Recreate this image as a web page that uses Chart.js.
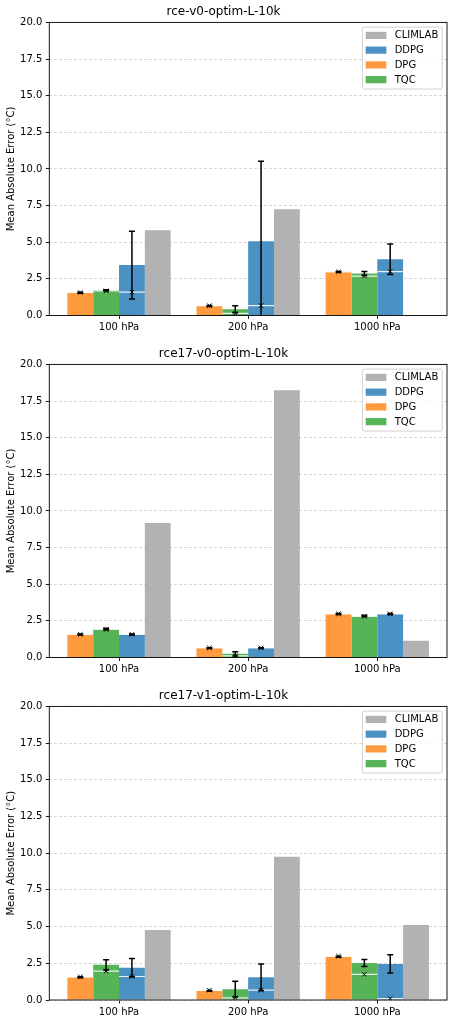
<!DOCTYPE html>
<html><head><meta charset="utf-8">
<script src="https://cdn.jsdelivr.net/npm/chart.js@4.4.0/dist/chart.umd.min.js"></script>
<style>
html,body{margin:0;padding:0;background:#fff;width:455px;height:1022px;overflow:hidden}
canvas{position:absolute;left:0}
</style></head>
<body>
<canvas id="c0" width="455" height="342" style="top:0px"></canvas>
<canvas id="c1" width="455" height="342" style="top:342px"></canvas>
<canvas id="c2" width="455" height="338" style="top:684px"></canvas>
<script>
// ---------------- data ----------------
const categories = ['100 hPa', '200 hPa', '1000 hPa'];
const yTicks = [0, 2.5, 5, 7.5, 10, 12.5, 15, 17.5, 20];
const seriesNames = ['DPG', 'TQC', 'DDPG', 'CLIMLAB'];
const panelTitles = ['rce-v0-optim-L-10k', 'rce17-v0-optim-L-10k', 'rce17-v1-optim-L-10k'];
const yLabel = 'Mean Absolute Error (°C)';

// panel 1: rce-v0-optim-L-10k
const p1_DPG = [1.55, 0.65, 2.98];
const p1_DPG_err = [0.04, 0.03, 0.03];
const p1_DPG_med = [1.57, 0.67, 2.98];
const p1_TQC = [1.72, 0.42, 2.87];
const p1_TQC_err = [0.04, 0.24, 0.14];
const p1_TQC_med = [1.68, 0.15, 2.69];
const p1_DDPG = [3.44, 5.07, 3.84];
const p1_DDPG_err = [2.31, 5.45, 1.04];
const p1_DDPG_med = [1.59, 0.68, 3.0];
const p1_CLIMLAB = [5.82, 7.25, null];

// panel 2: rce17-v0-optim-L-10k
const p2_DPG = [1.57, 0.64, 2.97];
const p2_DPG_err = [0.03, 0.03, 0.03];
const p2_DPG_med = [1.58, 0.66, 2.98];
const p2_TQC = [1.95, 0.25, 2.84];
const p2_TQC_err = [0.05, 0.14, 0.05];
const p2_TQC_med = [1.91, 0.11, 2.80];
const p2_DDPG = [1.57, 0.64, 2.97];
const p2_DDPG_err = [0.03, 0.03, 0.03];
const p2_DDPG_med = [1.58, 0.66, 2.98];
const p2_CLIMLAB = [9.17, 18.23, 1.14];

// panel 3: rce17-v1-optim-L-10k
const p3_DPG = [1.55, 0.62, 2.95];
const p3_DPG_err = [0.03, 0.03, 0.03];
const p3_DPG_med = [1.58, 0.67, 2.99];
const p3_TQC = [2.40, 0.74, 2.52];
const p3_TQC_err = [0.35, 0.53, 0.24];
const p3_TQC_med = [1.97, 0.15, 1.75];
const p3_DDPG = [2.20, 1.55, 2.46];
const p3_DDPG_err = [0.62, 0.90, 0.62];
const p3_DDPG_med = [1.60, 0.67, 0.10];
const p3_CLIMLAB = [4.77, 9.75, 5.11];

// ---------------- styles ----------------
const FONT = '"DejaVu Sans", "Liberation Sans", sans-serif';
const colors = { DPG: '#ff9a3e', TQC: '#56b356', DDPG: '#4b91c3', CLIMLAB: '#b2b2b2' };
Chart.defaults.font.family = FONT;
Chart.defaults.color = '#000';

const errPlugin = {
  id: 'errbars',
  afterDatasetsDraw(chart) {
    const ctx = chart.ctx, ca = chart.chartArea, ys = chart.scales.y;
    ctx.save();
    ctx.beginPath();
    ctx.rect(ca.left, ca.top, ca.right - ca.left, ca.bottom - ca.top);
    ctx.clip();
    chart.data.datasets.forEach((ds, k) => {
      if (!ds.errors) return;
      const meta = chart.getDatasetMeta(k);
      meta.data.forEach((bar, i) => {
        const m = ds.data[i].y;
        if (m == null) return;
        const x = bar.x, w = bar.width;
        // median line
        const ym = ys.getPixelForValue(ds.medians[i]);
        ctx.strokeStyle = 'rgba(255,255,255,0.85)';
        ctx.lineWidth = 1.2;
        ctx.beginPath(); ctx.moveTo(x - w / 2, ym); ctx.lineTo(x + w / 2, ym); ctx.stroke();
        // error bar
        const e = ds.errors[i];
        const yt = ys.getPixelForValue(m + e), yb = ys.getPixelForValue(m - e);
        ctx.strokeStyle = '#000';
        ctx.lineWidth = 1.5;
        ctx.beginPath();
        ctx.moveTo(x, yt); ctx.lineTo(x, yb);
        ctx.moveTo(x - 3, yt); ctx.lineTo(x + 3, yt);
        ctx.moveTo(x - 3, yb); ctx.lineTo(x + 3, yb);
        ctx.stroke();
        // x marker at median
        ctx.lineWidth = 1;
        const s = 2.2;
        ctx.beginPath();
        ctx.moveTo(x - s, ym - s); ctx.lineTo(x + s, ym + s);
        ctx.moveTo(x - s, ym + s); ctx.lineTo(x + s, ym - s);
        ctx.stroke();
      });
    });
    ctx.restore();
  }
};

const framePlugin = {
  id: 'frame',
  afterDatasetsDraw(chart) {
    const ctx = chart.ctx, ca = chart.chartArea;
    ctx.save();
    ctx.strokeStyle = '#000';
    ctx.lineWidth = 0.9;
    ctx.strokeRect(ca.left, ca.top, ca.right - ca.left, ca.bottom - ca.top);
    ctx.restore();
  }
};

const legendPlugin = {
  id: 'mplLegend',
  afterDraw(chart) {
    const ctx = chart.ctx, ca = chart.chartArea;
    const items = chart.data.datasets.map(d => ({ label: d.label, color: d.backgroundColor }))
      .sort((a, b) => a.label.localeCompare(b.label));
    ctx.save();
    ctx.font = '10px ' + FONT;
    const tw = Math.max(...items.map(it => ctx.measureText(it.label).width));
    const rowH = 14.75;
    const w = 3.3 + 20.7 + 8.3 + tw + 4;
    const h = 8.3 + (items.length - 1) * rowH + 9.4;
    const x0 = ca.right - 4.7 - w, y0 = ca.top + 4.7;
    const r = 2;
    ctx.beginPath();
    ctx.moveTo(x0 + r, y0);
    ctx.lineTo(x0 + w - r, y0); ctx.quadraticCurveTo(x0 + w, y0, x0 + w, y0 + r);
    ctx.lineTo(x0 + w, y0 + h - r); ctx.quadraticCurveTo(x0 + w, y0 + h, x0 + w - r, y0 + h);
    ctx.lineTo(x0 + r, y0 + h); ctx.quadraticCurveTo(x0, y0 + h, x0, y0 + h - r);
    ctx.lineTo(x0, y0 + r); ctx.quadraticCurveTo(x0, y0, x0 + r, y0);
    ctx.closePath();
    ctx.fillStyle = 'rgba(255,255,255,0.8)';
    ctx.fill();
    ctx.strokeStyle = '#d0d0d0';
    ctx.lineWidth = 1;
    ctx.stroke();
    items.forEach((it, j) => {
      const cy = y0 + 8.3 + j * rowH;
      ctx.fillStyle = it.color;
      ctx.fillRect(x0 + 3.3, cy - 3.6, 20.7, 7.2);
      ctx.fillStyle = '#000';
      ctx.textBaseline = 'middle';
      ctx.textAlign = 'left';
      ctx.fillText(it.label, x0 + 3.3 + 20.7 + 8.3, cy + 0.5);
    });
    ctx.restore();
  }
};

function makeChart(id, title, means, errs, meds, padBottom) {
  const datasets = seriesNames.map((name, k) => ({
    label: name,
    data: categories.map((c, i) => ({ x: i, y: means[k][i] })),
    backgroundColor: colors[name],
    borderWidth: 0,
    errors: errs[k],
    medians: meds[k]
  }));
  return new Chart(document.getElementById(id), {
    type: 'bar',
    data: { datasets },
    options: {
      responsive: false,
      animation: false,
      devicePixelRatio: 1,
      datasets: { bar: { categoryPercentage: 0.8, barPercentage: 1.0 } },
      layout: { padding: { left: 0, right: 8, top: 0, bottom: padBottom } },
      plugins: {
        legend: { display: false },
        tooltip: { enabled: false },
        title: {
          display: true, text: title, color: '#000',
          font: { size: 12, weight: 'normal', family: FONT },
          padding: { top: 5, bottom: 3 }
        }
      },
      scales: {
        x: {
          type: 'linear', min: -0.54, max: 2.54, offset: false,
          grid: { display: true, drawOnChartArea: false, drawTicks: true, tickLength: 3.5,
                  tickColor: '#000', tickWidth: 0.9, offset: false, color: '#000' },
          border: { display: false },
          ticks: { autoSkip: false, maxRotation: 0, minRotation: 0, padding: 2.5, color: '#000',
                   font: { size: 10, family: FONT },
                   callback: v => (categories[v] !== undefined ? categories[v] : '') },
          afterBuildTicks: ax => { ax.ticks = categories.map((c, i) => ({ value: i })); },
          afterFit: ax => { ax.height = 20; }
        },
        y: {
          min: 0, max: 20,
          ticks: { padding: 3.5, color: '#000', font: { size: 10, family: FONT },
                   callback: v => Number(v).toFixed(1) },
          afterBuildTicks: ax => { ax.ticks = yTicks.map(v => ({ value: v })); },
          grid: { color: '#cdcdcd', lineWidth: 0.8, tickColor: '#000', tickWidth: 0.9,
                  tickLength: 3.5, tickBorderDash: [], borderDash: [3, 2] },
          border: { display: false, dash: [3, 2] },
          title: { display: true, text: yLabel, color: '#000',
                   font: { size: 10, family: FONT }, padding: { top: 5, bottom: 0 } },
          afterFit: ax => { ax.width = 49.3; }
        }
      }
    },
    plugins: [errPlugin, framePlugin, legendPlugin]
  });
}

makeChart('c0', panelTitles[0],
  [p1_DPG, p1_TQC, p1_DDPG, p1_CLIMLAB],
  [p1_DPG_err, p1_TQC_err, p1_DDPG_err, null],
  [p1_DPG_med, p1_TQC_med, p1_DDPG_med, null], 6.5);
makeChart('c1', panelTitles[1],
  [p2_DPG, p2_TQC, p2_DDPG, p2_CLIMLAB],
  [p2_DPG_err, p2_TQC_err, p2_DDPG_err, null],
  [p2_DPG_med, p2_TQC_med, p2_DDPG_med, null], 6.5);
makeChart('c2', panelTitles[2],
  [p3_DPG, p3_TQC, p3_DDPG, p3_CLIMLAB],
  [p3_DPG_err, p3_TQC_err, p3_DDPG_err, null],
  [p3_DPG_med, p3_TQC_med, p3_DDPG_med, null], 2);
</script>
</body></html>
